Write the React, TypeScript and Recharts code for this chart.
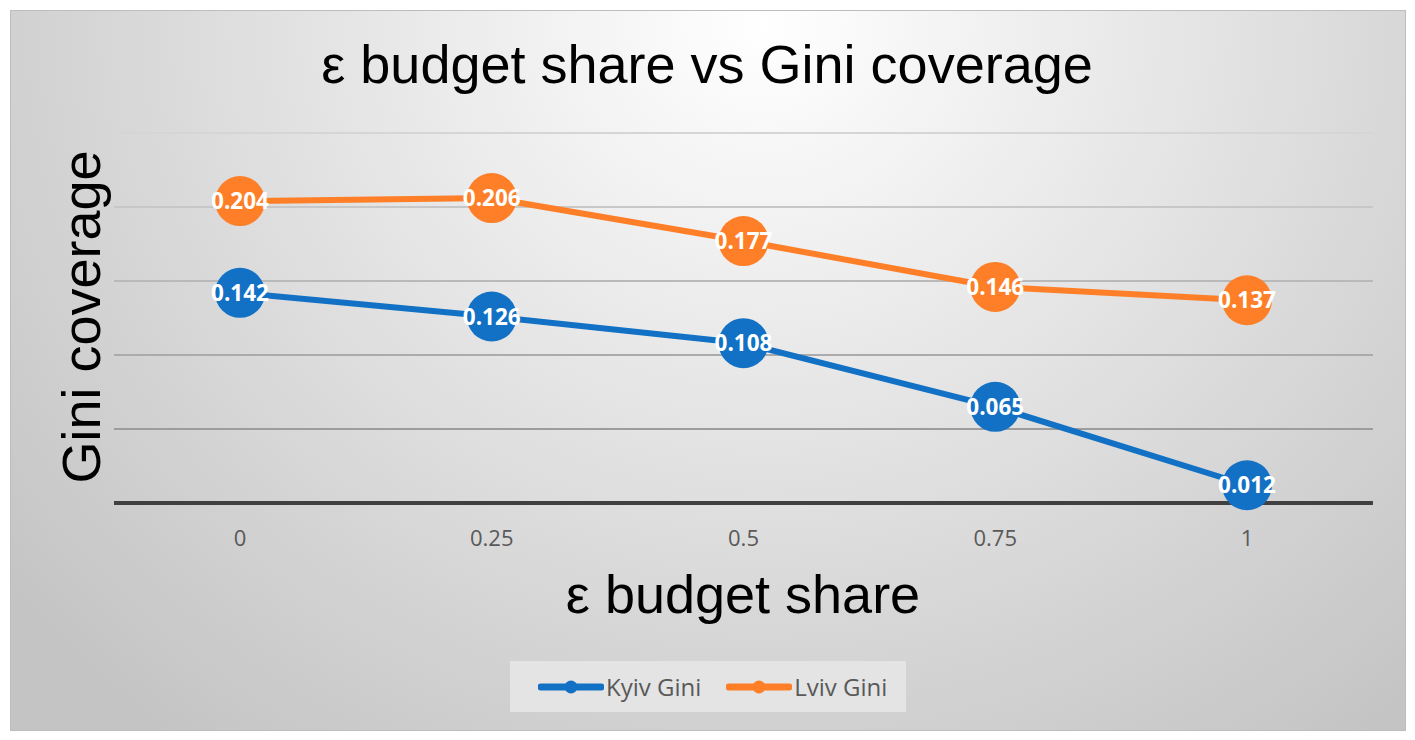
import React from "react";
import {
  LineChart,
  Line,
  XAxis,
  YAxis,
  CartesianGrid,
  Legend,
  LabelList,
} from "recharts";

// ε budget share (category ticks)
const budgetShares = ["0", "0.25", "0.5", "0.75", "1"];
const kyivGini = [0.142, 0.126, 0.108, 0.065, 0.012];
const lvivGini = [0.204, 0.206, 0.177, 0.146, 0.137];
const yTicks = [0, 0.05, 0.1, 0.15, 0.2, 0.25];

const KYIV = "#1271c4";
const LVIV = "#fe7f27";

const data = budgetShares.map((share, i) => ({
  share,
  kyiv: kyivGini[i],
  lviv: lvivGini[i],
}));

const series = [
  { key: "kyiv", name: "Kyiv Gini", color: KYIV },
  { key: "lviv", name: "Lviv Gini", color: LVIV },
];

const W = 1396;
const H = 721;

const renderValue = (props: any) => {
  const { x, y, value } = props;
  return (
    <text
      x={x}
      y={y + 8}
      textAnchor="middle"
      fill="#ffffff"
      fontFamily="'Open Sans', sans-serif"
      fontWeight={700}
      fontSize={22.5}
    >
      {Number(value).toFixed(3)}
    </text>
  );
};

const LegendBox = () => (
  <div
    style={{
      width: 396,
      height: 51,
      background: "#e4e4e4",
      display: "flex",
      alignItems: "center",
      fontFamily: "'Open Sans', sans-serif",
      fontSize: 24,
      color: "#595959",
    }}
  >
    {series.map((s, i) => (
      <div
        key={s.key}
        style={{ display: "flex", alignItems: "center", marginLeft: i === 0 ? 28 : 25 }}
      >
        <svg width={66} height={16}>
          <line x1={3} y1={8} x2={63} y2={8} stroke={s.color} strokeWidth={7} strokeLinecap="round" />
          <circle cx={33} cy={8} r={6.5} fill={s.color} />
        </svg>
        <span style={{ marginLeft: 2 }}>{s.name}</span>
      </div>
    ))}
  </div>
);

export default function App() {
  return (
    <div
      style={{
        position: "relative",
        marginLeft: 2,
        marginTop: 2,
        width: W,
        height: H,
        background:
          "radial-gradient(ellipse 70% 125% at 54% 2%, #ffffff 0%, #eaeaea 35%, #d5d5d5 70%, #c4c4c4 100%)",
        outline: "1px solid #bdbdbd",
        outlineOffset: -1,
      }}
    >
      <LineChart
        width={W}
        height={H}
        data={data}
        margin={{ top: 123, right: 33, left: 104, bottom: 198 }}
      >
        <defs>
          <linearGradient id="gridFade" gradientUnits="userSpaceOnUse" x1="0" y1="120" x2="0" y2="495">
            <stop offset="0" stopColor="#d6d6d6" />
            <stop offset="1" stopColor="#8e8e8e" />
          </linearGradient>
        </defs>
        <CartesianGrid vertical={false} stroke="url(#gridFade)" strokeWidth={2} />
        <XAxis
          dataKey="share"
          height={30}
          padding={{ left: 126, right: 126 }}
          tickLine={false}
          tickMargin={21}
          axisLine={{ stroke: "#404040", strokeWidth: 4 }}
          tick={{ fontSize: 22, fill: "#595959", fontFamily: "'Open Sans', sans-serif" }}
        />
        <YAxis hide domain={[0, 0.25]} ticks={yTicks} />
        <Legend
          layout="horizontal"
          verticalAlign="middle"
          align="center"
          content={() => <LegendBox />}
          wrapperStyle={{ left: 500, top: 651, width: 396, height: 51 }}
        />
        {series.map((s) => (
          <Line
            key={s.key}
            dataKey={s.key}
            name={s.name}
            stroke={s.color}
            strokeWidth={6}
            dot={{ r: 25, fill: s.color, stroke: s.color, strokeWidth: 0 }}
            activeDot={false}
            isAnimationActive={false}
          >
            <LabelList dataKey={s.key} content={renderValue} />
          </Line>
        ))}
      </LineChart>
      <svg
        width={W}
        height={H}
        style={{ position: "absolute", left: 0, top: 0, pointerEvents: "none" }}
        fontFamily="'Liberation Sans', Arial, sans-serif"
      >
        <text x={697} y={73} textAnchor="middle" fontSize={54} fill="#000">
          ε budget share vs Gini coverage
        </text>
        <text x={733} y={603} textAnchor="middle" fontSize={54} fill="#000">
          ε budget share
        </text>
        <text
          x={90}
          y={307}
          textAnchor="middle"
          fontSize={54}
          fill="#000"
          transform="rotate(-90 90 307)"
        >
          Gini coverage
        </text>
      </svg>
    </div>
  );
}
